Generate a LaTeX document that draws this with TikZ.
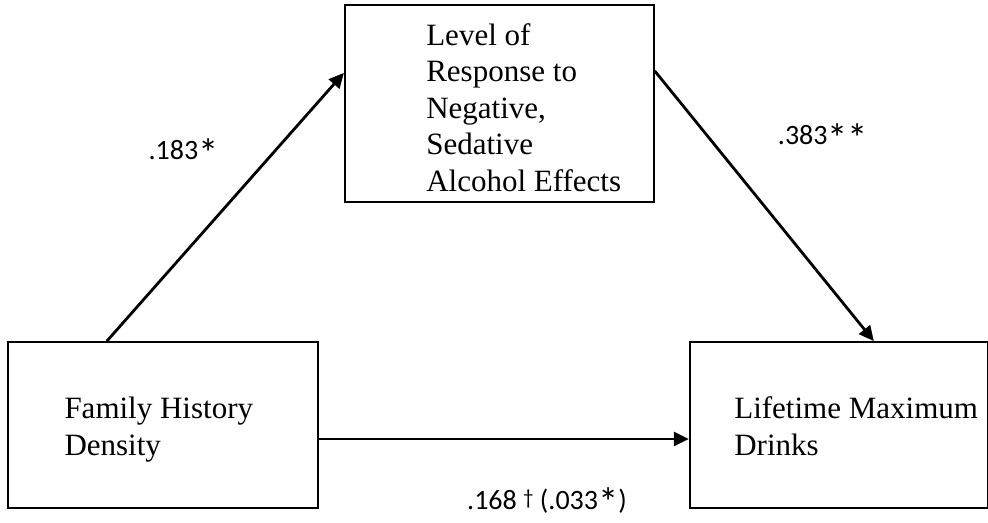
\documentclass[tikz,border=0pt]{standalone}
\usepackage{fontspec}
\setmainfont{Liberation Serif}
\newfontfamily\coeffont{Carlito}
\usepackage{tikz}
\usetikzlibrary{arrows.meta,positioning,calc}
\definecolor{mdedge}{RGB}{0,0,0}
\definecolor{mdfill}{RGB}{255,255,255}
\newcommand{\cstar}{\raisebox{-3.9pt}[8pt][0pt]{\scalebox{1.45}{*}}}
\newcommand{\cdag}{{\fontsize{10.5pt}{10pt}\selectfont\raisebox{2.2pt}[8pt][0pt]{†}}}
\tikzset{
  mdbox/.style={
    draw=mdedge, fill=mdfill, line width=0.9pt, inner sep=0pt,
    minimum height=83pt
  },
  mdtxt/.style={
    align=left, inner sep=0pt,
    font=\fontsize{15.5pt}{18.25pt}\selectfont
  },
  coef/.style={font=\coeffont\fontsize{14pt}{16pt}\selectfont, inner sep=0pt},
  arr/.style={-{Triangle[length=7.5pt,width=7pt]}, draw=mdedge, line width=1.4pt}
}
\begin{document}
\begin{tikzpicture}[x=0.5pt, y=-0.5pt]
  \useasboundingbox (0,0) rectangle (988,523);
  % boxes
  \node[mdbox, minimum width=155pt] (fhd) at (163,425) {};
  \node[mdbox, minimum width=149pt, right=185pt of fhd] (lmd) {};
  \node[mdbox, minimum width=154.5pt, minimum height=98.5pt,
    above right=69pt and 12.5pt of fhd] (lor) {};
  \node[mdtxt, anchor=west] (fhdtxt) at ($(fhd.west)+(57,4.5)$)
    {Family History\\Density};
  \node[mdtxt, anchor=west] (lmdtxt) at ($(lmd.west)+(45,1)$)
    {Lifetime Maximum\\Drinks};
  \node[mdtxt, anchor=west] (lortxt) at ($(lor.west)+(82,4)$)
    {Level of\\Response to\\Negative,\\Sedative\\Alcohol Effects};
  % paths
  \draw[arr] ($(fhd.north west)!0.32!(fhd.north east)$)
    -- ($(lor.north west)!0.345!(lor.south west)$);
  \draw[arr] ($(lor.north east)!0.335!(lor.south east)$)
    -- ($(lmd.north west)!0.617!(lmd.north east)$);
  \draw[arr] ($(fhd.east)+(0,14)$) -- ($(lmd.west)+(0,14)$);
  % coefficients
  \node[coef, anchor=base] (ca) at (183.5,160) {.183\cstar};
  \node[coef, anchor=base] (cb) at (823,145) {.383\cstar\cstar};
  \node[coef, anchor=base] (cc) at (547,509) {.168 \cdag{} (.033\cstar)};
\end{tikzpicture}
\end{document}
